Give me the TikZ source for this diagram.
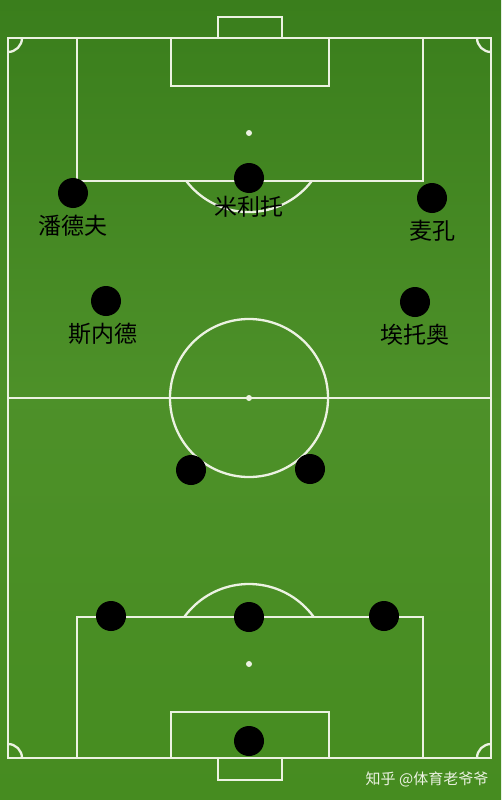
\documentclass[tikz,border=0pt]{standalone}
\usepackage{fontspec}
\usepackage{tikz}
\usepackage{xcolor}
\usetikzlibrary{positioning}
\newfontfamily\cjk{Noto Sans CJK SC}
\definecolor{grass}{RGB}{70,140,32}
\definecolor{grassdark}{RGB}{58,126,28}
\definecolor{chalk}{RGB}{236,242,226}

\begin{document}
\begin{tikzpicture}[
    x=1pt, y=-1pt,
    node distance=7pt,
    pitchline/.style={draw=chalk, line width=2.3pt},
    player/.style={circle, fill=black, minimum size=30pt, inner sep=0pt},
    playername/.style={inner sep=0pt, text=black, font=\cjk\fontsize{23}{23}\selectfont},
    watermark/.style={inner sep=0pt, text=chalk, font=\cjk\fontsize{15}{15}\selectfont}
]
    \useasboundingbox (0,0) rectangle (501,800);
    \shade[top color=grassdark, bottom color=grass, middle color=grass!96!white] (0,0) rectangle (501,800);

    % pitch
    \draw[pitchline] (8,38) rectangle (491,758);
    \draw[pitchline] (8,398) -- (491,398);
    \draw[pitchline] (249,398) circle[radius=79];
    \fill[chalk] (249,398) circle[radius=3];
    \begin{scope}
        \clip (8,38) rectangle (491,758);
        \foreach \cx/\cy in {8/38, 491/38, 8/758, 491/758}
            \draw[pitchline] (\cx,\cy) circle[radius=14];
    \end{scope}

    % top half
    \draw[pitchline] (77,38) rectangle (423,181);
    \draw[pitchline] (171,38) rectangle (329,86);
    \draw[pitchline] (218,38) -- (218,17) -- (282,17) -- (282,38);
    \fill[chalk] (249,133) circle[radius=3];
    \begin{scope}
        \clip (0,181) rectangle (501,300);
        \draw[pitchline] (249,133) circle[radius=79];
    \end{scope}

    % bottom half
    \draw[pitchline] (77,617) rectangle (423,758);
    \draw[pitchline] (171,712) rectangle (329,758);
    \draw[pitchline] (218,758) -- (218,780) -- (282,780) -- (282,758);
    \fill[chalk] (249,664) circle[radius=3];
    \begin{scope}
        \clip (0,500) rectangle (501,617);
        \draw[pitchline] (249,664) circle[radius=80];
    \end{scope}

    % players
    \node[player] (pandev) at (73,193) {};
    \node[player] (milito) at (249,178) {};
    \node[player] (maicon) at (432,198) {};
    \node[player] (sneijder) at (106,301) {};
    \node[player] (etoo) at (415,302) {};
    \node[player] (cmleft) at (191,470) {};
    \node[player] (cmright) at (310,469) {};
    \node[player] (lb) at (111,616) {};
    \node[player] (cb) at (249,617) {};
    \node[player] (rb) at (384,616) {};
    \node[player] (gk) at (249,741) {};

    \node[playername, below=of pandev] (pandevname) {潘德夫};
    \node[playername, below=3pt of milito] (militoname) {米利托};
    \node[playername, below=of maicon] (maiconname) {麦孔};
    \node[playername, below=of sneijder, xshift=-3pt] (sneijdername) {斯内德};
    \node[playername, below=of etoo] (etooname) {埃托奥};

    \node[watermark] (credit) at (427,779) {知乎 @体育老爷爷};
\end{tikzpicture}
\end{document}
